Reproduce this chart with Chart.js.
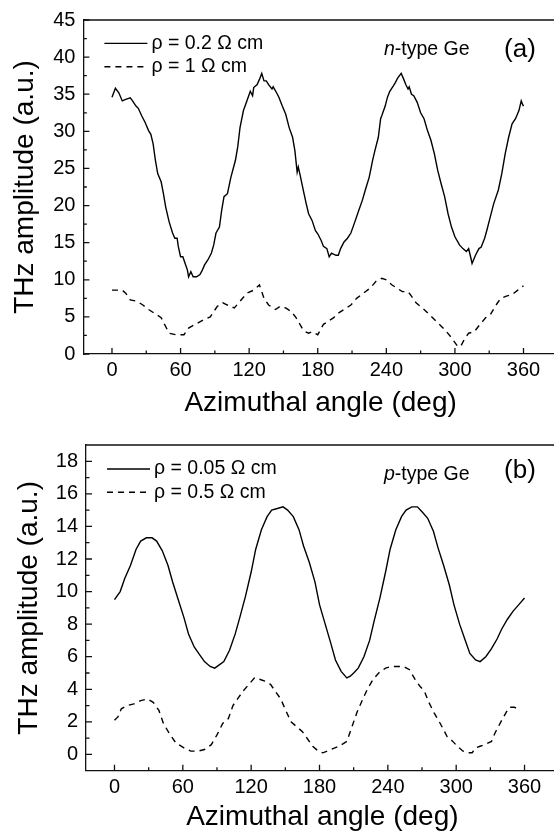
<!DOCTYPE html>
<html>
<head>
<meta charset="utf-8">
<script src="https://cdn.jsdelivr.net/npm/chart.js@4.4.0/dist/chart.umd.min.js"></script>
<style>
  html, body { margin:0; padding:0; background:#fff; width:554px; height:831px; overflow:hidden; }
  canvas { position:absolute; left:0; }
  #chartA { top:0; }
  #chartB { top:425px; }
</style>
</head>
<body>
<canvas id="chartA" width="570" height="425"></canvas>
<canvas id="chartB" width="570" height="420"></canvas>
<script>
// tick values
const xMajor = [0, 60, 120, 180, 240, 300, 360];
const xMinor = [30, 90, 150, 210, 270, 330];
const aYMajor = [0, 5, 10, 15, 20, 25, 30, 35, 40, 45];
const aYMinor = [2.5, 7.5, 12.5, 17.5, 22.5, 27.5, 32.5, 37.5, 42.5];
const bYMajor = [0, 2, 4, 6, 8, 10, 12, 14, 16, 18];
const bYMinor = [1, 3, 5, 7, 9, 11, 13, 15, 17];

// (a) n-type Ge
const aLabels = ['ρ = 0.2 Ω cm', 'ρ = 1 Ω cm'];
const aSolidDeg = [0,3,6,9,12,16,18,21,23,26,29,32,34,36,38,40,43,45,47,50,53,55,57,58,60,62,64,66,67,69,71,74,77,79,81,84,87,89,91,94,96,98,101,104,108,110,112,115,118,121,123,124,127,129,131,133,135,137,140,141,144,146,149,152,155,158,160,162,163,165,168,170,172,175,178,180,183,185,188,190,192,196,198,200,203,206,209,212,216,219,222,225,228,230,233,235,236,239,241,243,246,248,250,253,255,257,259,260,262,264,267,270,273,276,279,282,285,288,291,294,297,300,304,307,310,312,314,315,318,321,323,326,328,331,334,338,341,344,347,350,353,356,358,359,360];
const aSolidVal = [34.6,35.8,35.2,34.1,34.3,34.5,34.1,33.4,33.1,32.1,31.2,30.1,29.6,28.3,26.1,24.3,23.2,21.6,19.8,17.8,16.3,15.6,15.6,14.5,13.1,13.1,12.2,11.3,10.4,11.1,10.4,10.4,10.7,11.3,12.0,12.7,13.6,14.7,16.3,17.1,19.4,21.2,21.6,23.8,26.1,27.9,30.5,32.8,34.1,35.4,34.8,35.9,36.3,37.0,37.8,36.8,36.8,36.3,35.7,36.0,35.2,34.6,33.4,32.3,30.5,29.2,27.4,24.5,25.2,23.8,21.6,20.2,18.9,18.0,16.6,16.2,15.3,14.5,14.2,13.1,13.6,13.3,13.3,14.2,15.1,15.6,16.3,17.6,19.4,20.7,22.3,23.8,26.1,27.4,29.2,31.7,32.1,33.4,34.6,35.4,36.1,36.6,37.2,37.8,37.1,36.3,35.7,36.0,35.0,34.8,33.9,32.5,31.7,30.1,28.8,27.0,24.7,22.9,21.2,18.9,17.1,15.8,14.7,14.2,13.8,14.2,12.9,12.2,13.3,14.2,14.4,15.6,16.7,18.5,20.3,22.1,24.3,27.0,29.2,31.0,31.7,32.8,34.1,33.7,33.4];
const aDashDeg = [0,9,12,16,22,27,32,39,43,46,50,56,63,67,73,80,86,89,92,97,101,107,112,118,124,129,133,137,143,147,152,157,161,167,169,172,175,180,185,189,194,198,205,209,214,220,226,231,236,240,245,249,254,259,262,266,273,279,285,291,297,302,305,308,312,317,322,327,331,336,340,345,350,355,360];
const aDashVal = [8.6,8.6,8.2,7.3,7.1,6.6,6.0,5.3,4.9,4.0,2.8,2.6,2.6,3.5,4.0,4.6,5.0,5.7,6.4,6.9,6.6,6.2,7.1,8.2,8.6,9.3,7.5,6.6,6.0,6.4,6.2,5.7,4.9,3.3,3.0,2.8,3.0,2.6,4.0,4.4,4.9,5.5,6.2,6.6,7.5,8.2,8.9,9.8,10.2,10.0,9.3,8.9,8.4,8.4,7.8,6.9,6.0,5.1,4.2,3.3,2.2,1.1,1.0,1.9,2.8,3.0,4.0,4.9,5.3,6.6,7.5,7.8,8.0,8.6,9.2];

// (b) p-type Ge
const bLabels = ['ρ = 0.05 Ω cm', 'ρ = 0.5 Ω cm'];
const bSolidDeg = [0,5,9,14,19,23,28,33,37,42,47,51,56,61,65,70,75,79,84,88,92,96,101,106,110,115,120,124,129,134,138,143,148,152,157,162,166,171,176,180,185,190,194,199,204,207,210,214,219,224,228,233,238,242,247,252,256,261,266,270,275,280,284,289,294,298,303,308,312,317,321,326,331,336,340,345,350,355,360];
const bSolidVal = [9.5,10.0,10.8,11.6,12.6,13.1,13.3,13.3,13.1,12.5,11.6,10.6,9.5,8.4,7.4,6.6,6.1,5.7,5.4,5.3,5.5,5.7,6.4,7.4,8.4,9.7,11.2,12.6,13.8,14.6,15.0,15.1,15.2,15.0,14.6,13.8,12.8,11.8,10.6,9.2,8.0,6.8,5.8,5.1,4.7,4.8,5.0,5.3,6.0,7.0,8.2,9.6,11.2,12.6,13.8,14.6,15.0,15.2,15.2,14.9,14.5,13.7,12.7,11.6,10.4,9.2,8.0,7.0,6.2,5.8,5.7,6.0,6.5,7.1,7.7,8.3,8.8,9.2,9.6];
const bDashDeg = [0,3,6,11,17,23,29,34,39,43,48,54,61,67,73,79,85,90,95,100,104,109,113,118,123,128,132,137,141,146,151,155,160,165,170,174,179,183,190,197,204,208,213,218,222,227,232,238,243,248,254,259,264,268,272,276,281,286,292,297,301,306,310,314,317,321,325,331,334,337,340,344,347,351,354];
const bDashVal = [2.1,2.3,2.8,3.0,3.1,3.3,3.4,3.2,2.7,1.9,1.3,0.7,0.4,0.2,0.2,0.3,0.6,1.2,1.9,2.2,3.0,3.5,3.9,4.3,4.7,4.6,4.5,4.3,3.9,3.4,2.6,2.0,1.7,1.4,0.9,0.5,0.2,0.1,0.3,0.5,0.8,1.6,2.6,3.4,4.0,4.6,5.0,5.3,5.4,5.4,5.4,5.2,4.6,4.2,3.9,3.2,2.5,1.9,1.1,0.8,0.5,0.2,0.1,0.1,0.4,0.5,0.6,0.8,1.3,1.7,2.1,2.6,2.9,2.9,2.8];

const FONT = "'Liberation Sans', Arial, sans-serif";
const INK = '#000';
const DASH = [6, 5];

const toPts = (xs, ys) => xs.map((x, i) => ({ x: x, y: ys[i] }));

// ticks inside the frame, top border, legend and panel notes
const panelPlugin = {
  id: 'panelDecor',
  afterDraw(chart, args, o) {
    const ctx = chart.ctx;
    const ca = chart.chartArea;
    const xs = chart.scales.x, ys = chart.scales.y;
    ctx.save();
    ctx.strokeStyle = '#111';
    ctx.lineWidth = 1.3;
    // top border
    ctx.beginPath();
    ctx.moveTo(ca.left, ca.top);
    ctx.lineTo(ca.right + 20, ca.top);
    ctx.stroke();
    // inward ticks
    ctx.beginPath();
    xMajor.forEach(v => { const px = xs.getPixelForValue(v); ctx.moveTo(px, ca.bottom); ctx.lineTo(px, ca.bottom - 6); });
    xMinor.forEach(v => { const px = xs.getPixelForValue(v); ctx.moveTo(px, ca.bottom); ctx.lineTo(px, ca.bottom - 3.5); });
    o.yMajor.forEach(v => { const py = ys.getPixelForValue(v); ctx.moveTo(ca.left, py); ctx.lineTo(ca.left + 6, py); });
    o.yMinor.forEach(v => { const py = ys.getPixelForValue(v); ctx.moveTo(ca.left, py); ctx.lineTo(ca.left + 3.5, py); });
    ctx.stroke();

    // legend
    ctx.fillStyle = INK;
    ctx.font = '19.5px ' + FONT;
    ctx.textBaseline = 'middle';
    ctx.textAlign = 'left';
    chart.data.datasets.forEach((ds, i) => {
      const y = ca.top + o.legY[i];
      ctx.save();
      ctx.strokeStyle = ds.borderColor;
      ctx.lineWidth = ds.borderWidth;
      ctx.setLineDash(ds.borderDash || []);
      ctx.beginPath();
      ctx.moveTo(ca.left + o.legX, y);
      ctx.lineTo(ca.left + o.legX + 43, y);
      ctx.stroke();
      ctx.restore();
      ctx.fillText(ds.label, ca.left + o.legX + 47, y);
    });

    // "n-type Ge" / "p-type Ge"
    ctx.textBaseline = 'alphabetic';
    let tx = o.noteX;
    const ty = ca.top + o.noteY;
    ctx.font = 'italic 19.5px ' + FONT;
    ctx.fillText(o.noteItalic, tx, ty);
    tx += ctx.measureText(o.noteItalic).width;
    ctx.font = '19.5px ' + FONT;
    ctx.fillText(o.noteRest, tx, ty);
    // panel letter
    ctx.font = '26px ' + FONT;
    ctx.textAlign = 'center';
    ctx.fillText(o.letter, o.letterX, ca.top + o.letterY);
    ctx.restore();
  }
};

function buildPanel(id, p) {
  const ctx = document.getElementById(id).getContext('2d');
  return new Chart(ctx, {
    type: 'line',
    data: {
      datasets: [
        { label: p.labels[0], data: toPts(p.solidDeg, p.solidVal), borderColor: INK, borderWidth: 1.4, pointRadius: 0, tension: 0, fill: false },
        { label: p.labels[1], data: toPts(p.dashDeg, p.dashVal), borderColor: INK, borderWidth: 1.4, borderDash: DASH, pointRadius: 0, tension: 0, fill: false }
      ]
    },
    options: {
      responsive: false,
      animation: false,
      events: [],
      layout: { padding: { left: 0, top: p.top, right: p.right, bottom: 0 } },
      plugins: {
        legend: { display: false },
        tooltip: { enabled: false },
        panelDecor: p.decor
      },
      scales: {
        x: {
          type: 'linear', min: -25, max: 390,
          afterBuildTicks: s => { s.ticks = xMajor.map(v => ({ value: v })); },
          afterFit: s => { s.height = p.xH; },
          grid: { display: false, drawTicks: false },
          border: { display: true, color: '#111', width: 1.3 },
          ticks: { padding: p.xTickPad, color: INK, font: { family: FONT, size: 20 }, maxRotation: 0, autoSkip: false },
          title: { display: true, text: 'Azimuthal angle (deg)', color: INK, font: { family: FONT, size: 28 }, padding: { top: 0, bottom: p.xTitlePad } }
        },
        y: {
          type: 'linear', min: p.yMin, max: p.yMax,
          afterBuildTicks: s => { s.ticks = p.decor.yMajor.map(v => ({ value: v })); },
          afterFit: s => { s.width = p.yW; },
          grid: { display: false, drawTicks: false },
          border: { display: true, color: '#111', width: 1.3 },
          ticks: { padding: 8, color: INK, font: { family: FONT, size: 20 }, autoSkip: false },
          title: { display: true, text: 'THz amplitude (a.u.)', color: INK, font: { family: FONT, size: 28 }, padding: { top: p.yTitlePad, bottom: 0 } }
        }
      }
    },
    plugins: [panelPlugin]
  });
}

buildPanel('chartA', {
  labels: aLabels, solidDeg: aSolidDeg, solidVal: aSolidVal, dashDeg: aDashDeg, dashVal: aDashVal,
  yMin: 0, yMax: 45, top: 18.3, right: 12.2, yW: 83.4, xH: 71, xTickPad: 4, xTitlePad: 5, yTitlePad: 8,
  decor: { yMajor: aYMajor, yMinor: aYMinor, legX: 21, legY: [23.4, 46.7],
           noteItalic: 'n', noteRest: '-type Ge', noteX: 384, noteY: 35, letter: '(a)', letterX: 520, letterY: 36.7 }
});

buildPanel('chartB', {
  labels: bLabels, solidDeg: bSolidDeg, solidVal: bSolidVal, dashDeg: bDashDeg, dashVal: bDashVal,
  yMin: -1, yMax: 19, top: 12.7, right: 11.3, yW: 86, xH: 74.3, xTickPad: 5, xTitlePad: 11, yTitlePad: 12,
  decor: { yMajor: bYMajor, yMinor: bYMinor, legX: 21, legY: [24, 47.3],
           noteItalic: 'p', noteRest: '-type Ge', noteX: 384, noteY: 35, letter: '(b)', letterX: 520, letterY: 33 }
});
</script>
</body>
</html>
